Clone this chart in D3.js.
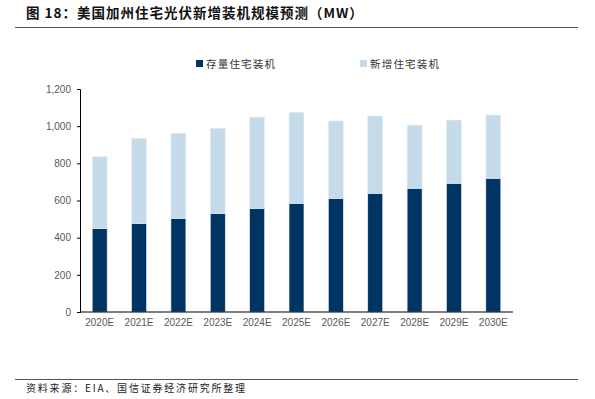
<!DOCTYPE html>
<html><head><meta charset="utf-8">
<script src="https://cdn.jsdelivr.net/npm/d3@7"></script>
<style>body{margin:0;background:#fff}svg{display:block}</style>
</head><body>
<svg id="c" width="595" height="399"></svg>
<script>
const categories = ["2020E","2021E","2022E","2023E","2024E","2025E","2026E","2027E","2028E","2029E","2030E"];
const existing = [450,477,504,531,558,585,612,639,666,693,720];
const added = [386,458,458,458,491,490,416,416,340,340,340];
const yTicks = [0,200,400,600,800,1000,1200];
const seriesNames = ["存量住宅装机","新增住宅装机"];
const colors = ["#003462","#C6DBEA"];

const svg = d3.select("#c");
const font = "Arial, 'Liberation Sans', 'Noto Sans CJK SC', sans-serif";
const cjk = "'Noto Sans CJK SC', sans-serif";

// title
svg.append("text").attr("x",26).attr("y",18).attr("font-family",cjk).attr("font-weight","bold")
  .attr("font-size",13.5).attr("letter-spacing",1).attr("fill","#111")
  .text("图 18：美国加州住宅光伏新增装机规模预测（MW）");
svg.append("line").attr("x1",15).attr("x2",578).attr("y1",27.5).attr("y2",27.5).attr("stroke","#555").attr("stroke-width",1);

const x = d3.scaleBand().domain(categories).range([80,513]).paddingInner(0.62).paddingOuter(0.31);
const y = d3.scaleLinear().domain([0,1200]).range([312,89]);

const data = categories.map((c,i)=>({cat:c, existing:existing[i], added:added[i]}));
const stack = d3.stack().keys(["existing","added"])(data);

svg.append("g").selectAll("g").data(stack).join("g").attr("fill",(d,i)=>colors[i])
  .selectAll("rect").data(d=>d).join("rect")
  .attr("x",d=>x(d.data.cat)).attr("width",x.bandwidth())
  .attr("y",d=>y(d[1])).attr("height",d=>y(d[0])-y(d[1]))
  .attr("stroke","#e8f0f7").attr("stroke-width",0.6);

// y axis
const ya = svg.append("g").attr("transform","translate(80,0)")
  .call(d3.axisLeft(y).tickValues(yTicks).tickFormat(d3.format(",")).tickSize(3).tickPadding(6));
ya.select(".domain").attr("stroke","#000");
ya.selectAll(".tick line").attr("stroke","#000");
ya.selectAll("text").attr("font-family",font).attr("font-size",10).attr("fill","#595959");

// x axis
const xa = svg.append("g").attr("transform","translate(0,312)")
  .call(d3.axisBottom(x).tickSize(0).tickPadding(7));
xa.select(".domain").attr("stroke","#000").attr("d","M80,0H513");
xa.selectAll("text").attr("font-family",font).attr("font-size",10).attr("fill","#595959");

// legend
const lx = [196,360];
seriesNames.forEach((n,i)=>{
  svg.append("rect").attr("x",lx[i]).attr("y",60).attr("width",7).attr("height",7).attr("fill",colors[i]);
  svg.append("text").attr("x",lx[i]+10).attr("y",67.5).attr("font-family",cjk).attr("font-size",10.5)
    .attr("letter-spacing",1.2).attr("fill","#333").text(n);
});

// footer
svg.append("line").attr("x1",15).attr("x2",578).attr("y1",379.5).attr("y2",379.5).attr("stroke","#555").attr("stroke-width",1);
svg.append("text").attr("x",26).attr("y",392).attr("font-family",cjk).attr("font-size",10)
  .attr("letter-spacing",1.8).attr("fill","#222").text("资料来源：EIA、国信证券经济研究所整理");
</script>
</body></html>
